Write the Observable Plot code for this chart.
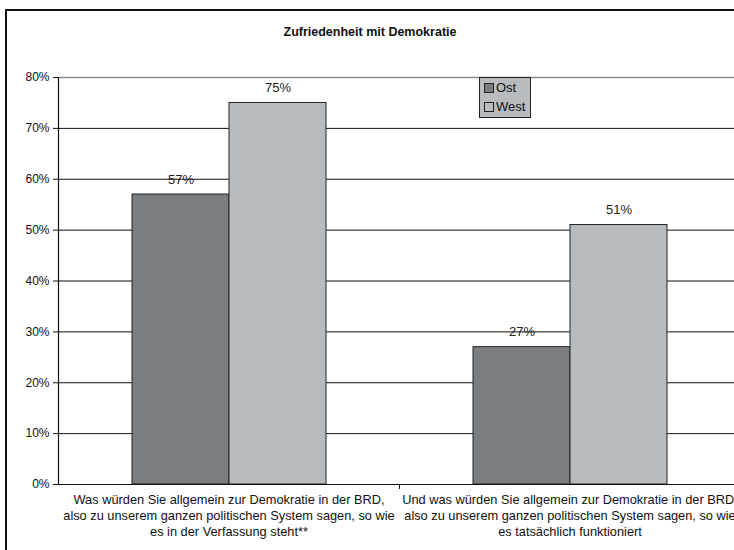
<!DOCTYPE html>
<html>
<head>
<meta charset="utf-8">
<script src="https://cdn.jsdelivr.net/npm/d3@7"></script>
<script src="https://cdn.jsdelivr.net/npm/@observablehq/plot@0.6"></script>
<style>
  html, body { margin: 0; padding: 0; background: #fff; overflow: hidden; }
  #page { position: relative; width: 734px; height: 550px; overflow: hidden; font-family: "Liberation Sans", Arial, sans-serif; }
  #frame { position: absolute; left: 5px; top: 9px; width: 780px; height: 600px; border: 2px solid #111; border-right: none; box-sizing: border-box; pointer-events: none; }
  #title { position: absolute; left: 0; top: 25px; width: 740px; text-align: center; font-weight: bold; font-size: 12.5px; color: #111; }
  #chart { position: absolute; left: 0; top: 0; width: 734px; height: 550px; }
  #legend { position: absolute; left: 479px; top: 77px; width: 52px; height: 41px; box-sizing: border-box; background: #b8bcbf; border: 1px solid #222; font-size: 13px; color: #111; }
  #legend .item { position: absolute; left: 4px; display: flex; align-items: center; }
  #legend .sw { width: 8px; height: 8px; border: 1px solid #222; margin-right: 2px; }
</style>
</head>
<body>
<div id="page">
<div id="chart"></div>
<div id="title">Zufriedenheit mit Demokratie</div>
<div id="legend"></div>
<div id="frame"></div>
</div>
<script>
const categories = ["verfassung", "funktioniert"];
const categoryLabels = [
  "Was würden Sie allgemein zur Demokratie in der BRD,\nalso zu unserem ganzen politischen System sagen, so wie\nes in der Verfassung steht**",
  "Und was würden Sie allgemein zur Demokratie in der BRD,\nalso zu unserem ganzen politischen System sagen, so wie\nes tatsächlich funktioniert"
];
const series = ["Ost", "West"];
const ostValues = [57, 27];
const westValues = [75, 51];
const yTicks = [0, 10, 20, 30, 40, 50, 60, 70, 80];
const seriesColors = ["#7b7e81", "#b8bcbf"];

const seriesValues = [ostValues, westValues];
const data = categories.flatMap((c, i) =>
  series.map((s, j) => ({category: c, series: s, value: seriesValues[j][i]}))
);
const labelOf = new Map(categories.map((c, i) => [c, categoryLabels[i]]));

const chart = Plot.plot({
  width: 734,
  height: 550,
  marginLeft: 57,
  marginRight: -6,
  marginTop: 77,
  marginBottom: 66,
  style: {fontFamily: "Liberation Sans, Arial, sans-serif", fontSize: "12px", color: "#111", background: "transparent", overflow: "visible", maxWidth: "none"},
  fx: {domain: categories, padding: 0, axis: null},
  x: {domain: series, paddingInner: 0, paddingOuter: 0.74, axis: null},
  y: {domain: [0, 80], ticks: yTicks, tickFormat: d => d + "%", tickSize: 5, tickPadding: 4, label: null},
  color: {domain: series, range: seriesColors},
  marks: [
    Plot.ruleY(yTicks.filter(d => d > 0 && d < 80), {stroke: "#111", strokeWidth: 1}),
    Plot.ruleY([80], {stroke: "#8c8c8c", strokeWidth: 1.6}),
    Plot.barY(data, {fx: "category", x: "series", y: "value", fill: "series", stroke: "#222", strokeWidth: 1}),
    Plot.text(data, {fx: "category", x: "series", y: "value", text: d => d.value + "%", dy: -15, fontSize: 13, fill: "#222"}),
    Plot.ruleY([0], {stroke: "#111", strokeWidth: 1.2}),
    Plot.frame({anchor: "left", facetAnchor: "left", stroke: "#111", strokeWidth: 1.2}),
    Plot.ruleX([categories[1]], {fx: d => d, x: null, y1: 0, y2: 0, insetBottom: -5, dx: -170.5, stroke: "#111"}),
    Plot.text(categories, {fx: d => d, text: d => labelOf.get(d), frameAnchor: "bottom", lineAnchor: "top", dy: 8, lineHeight: 1.25, fontSize: 12.8, fill: "#111"})
  ]
});
document.getElementById("chart").appendChild(chart);

const legend = document.getElementById("legend");
series.forEach((s, i) => {
  const item = document.createElement("div");
  item.className = "item";
  item.style.top = (i === 0 ? 2 : 21) + "px";
  const sw = document.createElement("div");
  sw.className = "sw";
  sw.style.background = seriesColors[i];
  const label = document.createElement("span");
  label.textContent = s;
  item.appendChild(sw);
  item.appendChild(label);
  legend.appendChild(item);
});
</script>
</body>
</html>
